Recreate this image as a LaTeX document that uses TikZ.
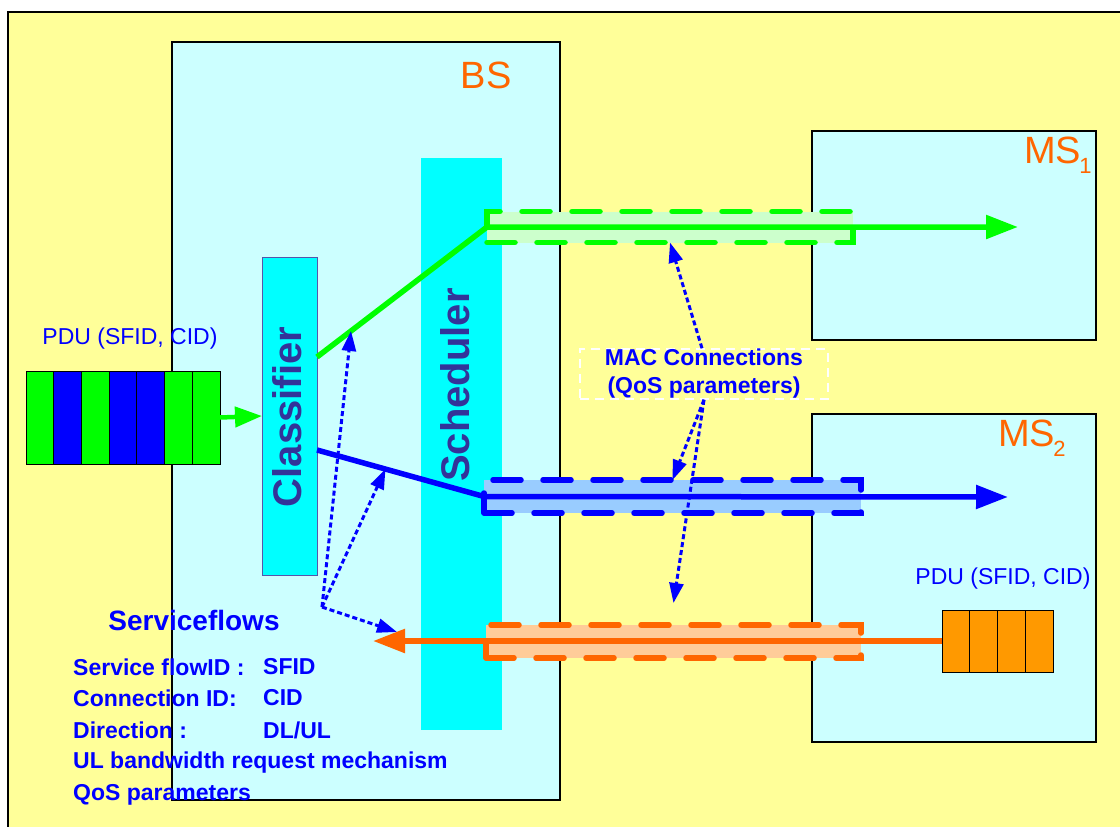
\documentclass[tikz,border=0pt]{standalone}
\usepackage{fontspec}
\setmainfont{Liberation Sans}
\usepackage{tikz}
\usetikzlibrary{arrows.meta, positioning, calc}

\definecolor{bgyellow}{HTML}{FFFF99}
\definecolor{lightcyan}{HTML}{CCFFFF}
\definecolor{brightcyan}{HTML}{00FFFF}
\definecolor{navytxt}{HTML}{333399}
\definecolor{clsedge}{HTML}{5555AA}
\definecolor{msorange}{HTML}{FF6600}
\definecolor{pduorange}{HTML}{FF9900}
\definecolor{sfgreen}{HTML}{00FF00}
\definecolor{sfblue}{HTML}{0000FF}
\definecolor{sforange}{HTML}{FF6600}
\definecolor{lgreen}{HTML}{CCFFCC}
\definecolor{lblue}{HTML}{99CCFF}
\definecolor{lorange}{HTML}{FFCC99}

\newcommand{\msidx}[1]{\kern-0.05em\raisebox{-0.25em}{\fontsize{22}{22}\selectfont #1}}

\begin{document}
\begin{tikzpicture}[x=1pt, y=-1pt,
  % ---- text styles ----
  txt/.style ={font=\fontsize{23}{27}\selectfont, text=sfblue},
  big/.style ={font=\fontsize{38}{40}\selectfont, text=msorange},
  lst/.style ={font=\fontsize{23}{25}\selectfont\bfseries, text=sfblue,
    inner sep=0pt, anchor=west},
  vtxt/.style={rotate=90, font=\fontsize{40}{40}\selectfont\bfseries,
    text=navytxt},
  % ---- box styles ----
  stn/.style ={draw=black, line width=1.3pt, fill=lightcyan, rectangle,
    inner sep=0pt, outer sep=0pt},
  blk/.style ={fill=brightcyan, rectangle, inner sep=0pt, outer sep=0pt},
  conn/.style={rectangle, inner sep=0pt, outer sep=0pt, line width=5.5pt,
    line cap=round, dash pattern=on 28pt off 22pt},
  cell/.style={draw=black, line width=0.9pt},
  % ---- arrow styles ----
  flow/.style={line width=5.5pt, -{Triangle[length=32pt, width=23pt]}},
  ptr/.style ={draw=sfblue, line width=3pt, dash pattern=on 5pt off 3pt,
    -{Triangle[length=20pt, width=14pt]}},
]
\useasboundingbox (0,0) rectangle (1120,827);
\clip (0,0) rectangle (1120,827);
\fill[white] (0,0) rectangle (1120,827);
\fill[bgyellow, draw=black, line width=1.3pt] (8,12) rectangle (1140,850);

% ---- stations ----
\node[stn, minimum width=388pt, minimum height=758pt] (bs) at (366,421) {};
\node[big] at (486,75) {BS};
\node[stn, minimum width=284pt, minimum height=209pt] (ms1) at (954,235.5) {};
\node[big] at (1058,155) {MS\msidx{1}};
\node[stn, minimum width=284pt, minimum height=328pt] (ms2) at (954,578) {};
\node[big] at (1032,438) {MS\msidx{2}};

% ---- scheduler and classifier ----
\node[blk, minimum width=81pt, minimum height=572pt] (sch) at (461.5,444) {};
\node[vtxt] at (455,385) {Scheduler};
\node[blk, draw=clsedge, line width=1pt, minimum width=55pt,
  minimum height=318pt] (cls) at (289.5,416) {};
\node[vtxt] at (287,417) {Classifier};

% ---- MAC connections ----
\node[conn, fill=lgreen, draw=sfgreen, minimum width=366pt,
  minimum height=31pt] (conG) at (670,227) {};
\node[conn, fill=lblue, draw=sfblue, minimum width=377pt,
  minimum height=33pt] (conB) at (672.5,496.5) {};
\node[conn, fill=lorange, draw=sforange, minimum width=375pt,
  minimum height=33pt] (conO) at (673.5,641.5) {};

% ---- PDU queues ----
\node[inner sep=0pt, outer sep=0pt, minimum width=194pt,
  minimum height=93pt] (pduA) at (123,417.5) {};
\foreach \c [count=\i from 0] in {sfgreen,sfblue,sfgreen,sfblue,sfblue,sfgreen,sfgreen}
  \draw[cell, fill=\c] ($(pduA.north west)+(\i*27.714,0)$) rectangle ++(27.714,93);
\node[txt] at (130,339) {PDU (SFID, CID)};

\node[inner sep=0pt, outer sep=0pt, minimum width=111pt,
  minimum height=62pt] (pduB) at (997.5,641) {};
\foreach \i in {0,...,3}
  \draw[cell, fill=pduorange] ($(pduB.north west)+(\i*27.75,0)$) rectangle ++(27.75,62);
\node[txt] at (1003,579) {PDU (SFID, CID)};

% ---- flows ----
\coordinate (gEnd) at (1018,227);
\coordinate (bEnd) at (1008,497);
\coordinate (oEnd) at (373,641);
\draw[sfgreen, line width=4.5pt, -{Triangle[length=27pt, width=20pt]}]
  (pduA.east) -- (cls.west);
\draw[flow, sfgreen] ([yshift=-100pt]cls.north east)
  -- coordinate[pos=0.2] (gTap) (conG.west) -- (gEnd);
\draw[flow, sfblue] ([yshift=-193pt]cls.north east)
  -- coordinate[pos=0.41] (bTap) (conB.west) -- (bEnd);
\draw[flow, sforange] (pduB.west) -- (oEnd);

% ---- labels and pointers ----
\node[draw=white, dash pattern=on 9pt off 6pt, line width=2pt,
  minimum width=248pt, minimum height=36pt, inner sep=0pt, align=center,
  text=sfblue, font=\fontsize{23}{28}\selectfont\bfseries] (mac) at (704,374)
  {MAC Connections\\(QoS parameters)};
\draw[ptr] ([xshift=-2pt]mac.north) -- (conG.south);
\draw[ptr] (mac.south) -- (conB.north);
\draw[ptr] (mac.south) -- ([yshift=22pt]conO.north);

\node[font=\fontsize{28}{30}\selectfont\bfseries, text=sfblue] (sflw)
  at (194,620) {Serviceflows};
\coordinate (sfo) at (322,607);
\coordinate (oTap) at (397,632);
\draw[ptr] (sfo) -- (gTap);
\draw[ptr] (sfo) -- (bTap);
\draw[ptr] (sfo) -- (oTap);

\foreach \y/\a/\b in {667/{Service flowID :}/SFID, 698/{Connection ID:}/CID,
    730/{Direction :}/{DL/UL}} {
  \node[lst] at (73,\y) {\a};
  \node[lst] at (263,\y) {\b};
}
\node[lst] at (73,763) {UL bandwidth request mechanism};
\node[lst] at (73,795) {QoS parameters};
\end{tikzpicture}
\end{document}
